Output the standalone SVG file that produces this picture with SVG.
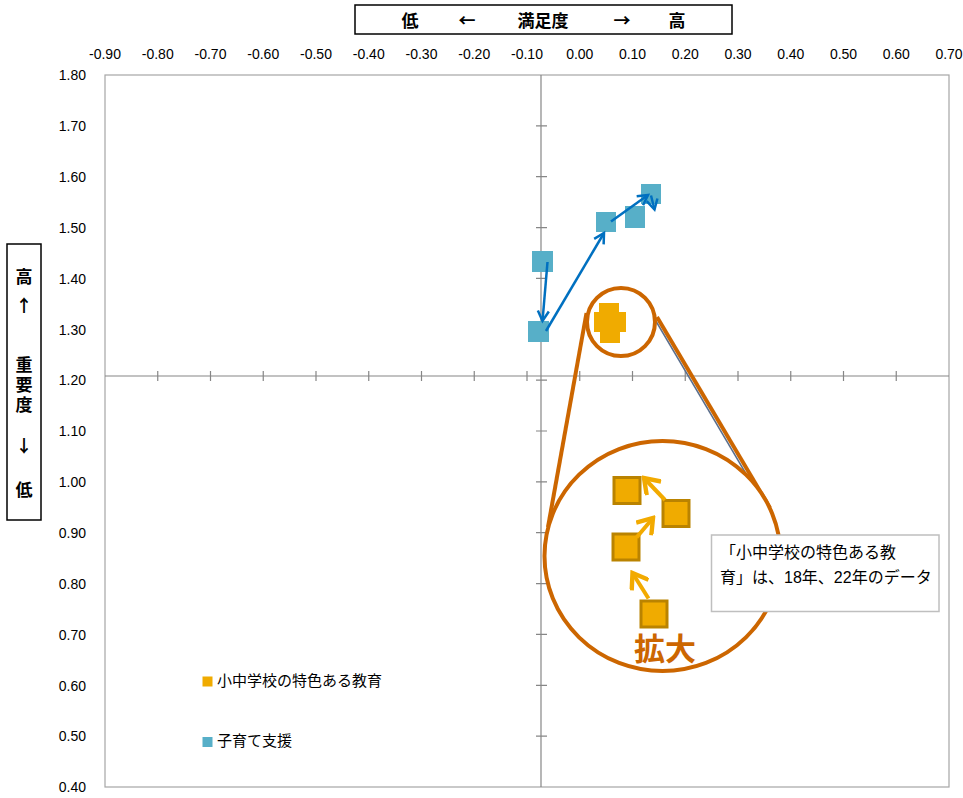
<svg xmlns="http://www.w3.org/2000/svg" width="963" height="798" viewBox="0 0 963 798">
<style>
.tick{font-family:"Liberation Sans","Noto Sans",sans-serif;font-size:14px;fill:#000}
.jp{font-family:"Noto Sans CJK JP","Noto Sans CJK SC",sans-serif;fill:#000}
.hdr{font-family:"Noto Sans CJK JP","Noto Sans CJK SC",sans-serif;font-weight:bold;font-size:17px;fill:#000}
.ax{stroke:#868686;stroke-width:1.2;fill:none}
.blue{fill:#57AFC8}
.org{fill:#F0AB00}
.bigsq{fill:#F0AB00;stroke:#BA8300;stroke-width:3}
.barr{stroke:#0070C0;stroke-width:2.5;fill:none;marker-end:url(#bh)}
.oarr{stroke:#F2AA00;stroke-width:4;fill:none;marker-end:url(#oh)}
.ring{fill:none;stroke:#CC6600;stroke-width:4}
</style>
<defs>
<marker id="bh" markerUnits="userSpaceOnUse" markerWidth="14" markerHeight="14" refX="11" refY="6" orient="auto" viewBox="0 0 14 12">
<path d="M1,0.5 L11,6 L1,11.5" fill="none" stroke="#0070C0" stroke-width="2.5"/>
</marker>
<marker id="oh" markerUnits="userSpaceOnUse" markerWidth="20" markerHeight="22" refX="15" refY="10" orient="auto" viewBox="0 0 18 20">
<path d="M2,1 L15,10 L2,19" fill="none" stroke="#F2AA00" stroke-width="4"/>
</marker>
</defs>
<rect width="963" height="798" fill="#fff"/>

<g id="title-x">
<rect x="355" y="5" width="377" height="29" fill="#fff" stroke="#000" stroke-width="1.5"/>
<text class="hdr" x="410" y="27" text-anchor="middle">低</text>
<text class="hdr" x="467" y="27" text-anchor="middle">←</text>
<text class="hdr" x="543" y="27" text-anchor="middle">満足度</text>
<text class="hdr" x="622" y="27" text-anchor="middle">→</text>
<text class="hdr" x="677" y="27" text-anchor="middle">高</text>
</g>

<g id="title-y">
<rect x="7" y="244" width="34" height="276" fill="#fff" stroke="#000" stroke-width="1.5"/>
<text class="hdr" text-anchor="middle" font-size="16" x="24" y="283">高</text>
<text class="hdr" text-anchor="middle" font-size="16" x="24" y="312">↑</text>
<text class="hdr" font-size="16" x="24" y="356" writing-mode="vertical-rl" letter-spacing="3">重要度</text>
<text class="hdr" text-anchor="middle" font-size="16" x="24" y="452">↓</text>
<text class="hdr" text-anchor="middle" font-size="16" x="24" y="496">低</text>
</g>

<g id="x-labels" class="tick" text-anchor="middle">
<text x="105" y="59">-0.90</text>
<text x="157.75" y="59">-0.80</text>
<text x="210.5" y="59">-0.70</text>
<text x="263.25" y="59">-0.60</text>
<text x="316" y="59">-0.50</text>
<text x="368.75" y="59">-0.40</text>
<text x="421.5" y="59">-0.30</text>
<text x="474.25" y="59">-0.20</text>
<text x="527" y="59">-0.10</text>
<text x="579.75" y="59">0.00</text>
<text x="632.5" y="59">0.10</text>
<text x="685.25" y="59">0.20</text>
<text x="738" y="59">0.30</text>
<text x="790.75" y="59">0.40</text>
<text x="843.5" y="59">0.50</text>
<text x="896.25" y="59">0.60</text>
<text x="949" y="59">0.70</text>
</g>

<g id="y-labels" class="tick" text-anchor="end">
<text x="86" y="80">1.80</text>
<text x="86" y="131">1.70</text>
<text x="86" y="182">1.60</text>
<text x="86" y="232.5">1.50</text>
<text x="86" y="283.5">1.40</text>
<text x="86" y="334.5">1.30</text>
<text x="86" y="385">1.20</text>
<text x="86" y="436">1.10</text>
<text x="86" y="487">1.00</text>
<text x="86" y="537.5">0.90</text>
<text x="86" y="588.5">0.80</text>
<text x="86" y="639.5">0.70</text>
<text x="86" y="690.5">0.60</text>
<text x="86" y="741">0.50</text>
<text x="86" y="792">0.40</text>
</g>

<g id="plot-area">
<rect x="105" y="75" width="844" height="712" fill="none" stroke="#A6A6A6" stroke-width="1.2"/>
<line class="ax" x1="105" y1="376" x2="949" y2="376"/>
<line class="ax" x1="541" y1="75" x2="541" y2="787"/>
<path class="ax" d="M157.75,371v10M210.5,371v10M263.25,371v10M316,371v10M368.75,371v10M421.5,371v10M474.25,371v10M527,371v10M579.75,371v10M632.5,371v10M685.25,371v10M738,371v10M790.75,371v10M843.5,371v10M896.25,371v10"/>
<path class="ax" d="M536,125.9h11M536,176.7h11M536,227.6h11M536,278.4h11M536,329.3h11M536,380.1h11M536,431h11M536,481.9h11M536,532.7h11M536,583.6h11M536,634.4h11M536,685.3h11M536,736.1h11"/>
</g>

<g id="series-kosodate">
<rect class="blue" x="532" y="251" width="21" height="21"/>
<rect class="blue" x="528" y="321" width="21" height="21"/>
<rect class="blue" x="596" y="212" width="20" height="20"/>
<rect class="blue" x="625" y="206" width="20" height="22"/>
<rect class="blue" x="641" y="184" width="20" height="20"/>
</g>

<g id="series-tokushoku-small">
<rect class="org" x="599" y="303" width="20" height="20"/>
<rect class="org" x="600" y="323" width="20" height="20"/>
<rect class="org" x="594" y="312" width="20" height="20"/>
<rect class="org" x="606" y="312" width="20" height="20"/>
</g>

<g id="connectors">
<line class="barr" x1="547.5" y1="262" x2="542.5" y2="321"/>
<line class="barr" x1="546" y1="331" x2="604" y2="233"/>
<line class="barr" x1="611" y1="221.5" x2="648" y2="195"/>
<line class="barr" x1="651" y1="195.5" x2="654.5" y2="209.5"/>
</g>

<g id="magnifier">
<line x1="656.5" y1="318" x2="768" y2="507" stroke="#5A6E8C" stroke-width="1.5" transform="translate(-1.8,1)"/>
<line x1="657" y1="317" x2="770" y2="508" stroke="#CC6600" stroke-width="4"/>
<line x1="586.5" y1="313" x2="548" y2="527" stroke="#CC6600" stroke-width="4"/>
<circle class="ring" cx="621" cy="322" r="34"/>
<ellipse cx="662.5" cy="556" rx="118" ry="115" fill="#fff" stroke="#CC6600" stroke-width="4"/>
</g>

<g id="series-tokushoku-zoom">
<rect class="bigsq" x="614" y="477.5" width="26" height="26"/>
<rect class="bigsq" x="663" y="500.5" width="26" height="26"/>
<rect class="bigsq" x="613" y="534" width="26" height="26"/>
<rect class="bigsq" x="641" y="601" width="26" height="26"/>
<line class="oarr" x1="648.5" y1="598.5" x2="632.5" y2="573"/>
<line class="oarr" x1="636.5" y1="537.5" x2="653" y2="518"/>
<line class="oarr" x1="665" y1="500" x2="644" y2="478"/>
<text x="634" y="660" font-family="Noto Sans CJK JP,Noto Sans CJK SC,sans-serif" font-weight="bold" font-size="31" fill="#CC6600">拡大</text>
</g>

<g id="note">
<rect x="711.5" y="535" width="227.5" height="76.5" fill="#fff" stroke="#BFBFBF" stroke-width="1.5"/>
<text class="jp" font-size="16" x="720" y="558">「小中学校の特色ある教</text>
<text class="jp" font-size="16" x="720" y="583">育」は、<tspan font-family="Liberation Sans,sans-serif">18</tspan>年、<tspan font-family="Liberation Sans,sans-serif">22</tspan>年のデータ</text>
</g>

<g id="legend">
<rect x="202.5" y="676.5" width="10" height="10" fill="#F0AB00"/>
<text class="jp" font-size="15" x="217" y="686">小中学校の特色ある教育</text>
<rect x="202.5" y="737" width="10" height="10" fill="#57AFC8"/>
<text class="jp" font-size="15" x="217" y="746">子育て支援</text>
</g>
</svg>
